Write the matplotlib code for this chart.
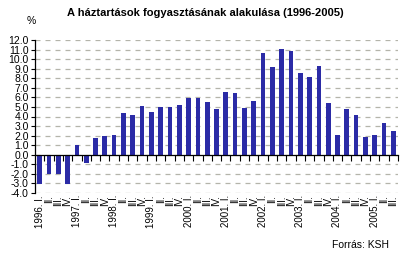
import matplotlib
matplotlib.use("Agg")
import matplotlib.pyplot as plt
import numpy as np

plt.rcParams['font.family'] = ['Liberation Sans', 'DejaVu Sans']

years = [1996, 1997, 1998, 1999, 2000, 2001, 2002, 2003, 2004, 2005]
quarters = ["I.", "II.", "III.", "IV."]
values = [-3.1, -2.05, -2.05, -3.1,
          1.0, -0.87, 1.74, 1.95,
          2.05, 4.36, 4.15, 5.05,
          4.42, 4.95, 4.95, 5.16,
          5.89, 5.89, 5.47, 4.74,
          6.52, 6.41, 4.84, 5.57,
          10.59, 9.13, 11.11, 10.8,
          8.6, 8.08, 9.23, 5.37,
          2.02, 4.74, 4.11, 1.81,
          2.02, 3.28, 2.44]

labels = []
for y in years:
    for qi, q in enumerate(quarters):
        labels.append(f"{y}. {q}" if qi == 0 else q)
labels = labels[:len(values)]

title = "A háztartások fogyasztásának alakulása (1996-2005)"
bar_color = "#2b2ba6"
grid_color = "#b4b4aa"

fig = plt.figure(figsize=(4.09, 2.54), dpi=100)
ax = fig.add_axes([35/409, 1-193/254, (398-35)/409, (193-40)/254])

x = np.arange(len(values))
ax.bar(x, values, width=0.5, color=bar_color, zorder=3)

ax.set_ylim(-4, 12)
ax.set_xlim(-0.5, len(values) - 0.5)
yt = np.arange(-4, 13, 1)
ax.set_yticks(yt)
ax.set_yticklabels([f"{v:.1f}" for v in yt], fontsize=7.5)
ax.tick_params(axis='y', length=3, width=0.8, pad=1.5, direction='out')
for v in yt:
    ax.axhline(v, color=grid_color, lw=0.9, ls=(0, (4, 4)), zorder=1)

for s in ['top', 'right']:
    ax.spines[s].set_visible(False)
ax.spines['left'].set_linewidth(0.9)
ax.spines['bottom'].set_position(('data', 0))
ax.spines['bottom'].set_linewidth(0.9)
ax.spines['bottom'].set_zorder(4)
ax.set_xticks(x + 0.5, minor=True)
ax.set_xticks([])
ax.tick_params(axis='x', which='minor', length=4, width=0.8, direction='out')

sec = ax.secondary_xaxis('bottom')
sec.spines['bottom'].set_visible(False)
sec.set_xticks(x)
sec.set_xticklabels(labels, rotation=90, fontsize=7, va='top', ha='center')
sec.tick_params(axis='x', length=0, pad=1.5)

fig.text(205/409, 1-13/254, title, ha='center', va='center', fontsize=8, fontweight='bold')
fig.text(31/409, 1-21/254, "%", ha='center', va='center', fontsize=7.5)
fig.text(360/409, 1-245/254, "Forrás: KSH", ha='center', va='center', fontsize=7.5)

fig.savefig("out.png", dpi=100)
